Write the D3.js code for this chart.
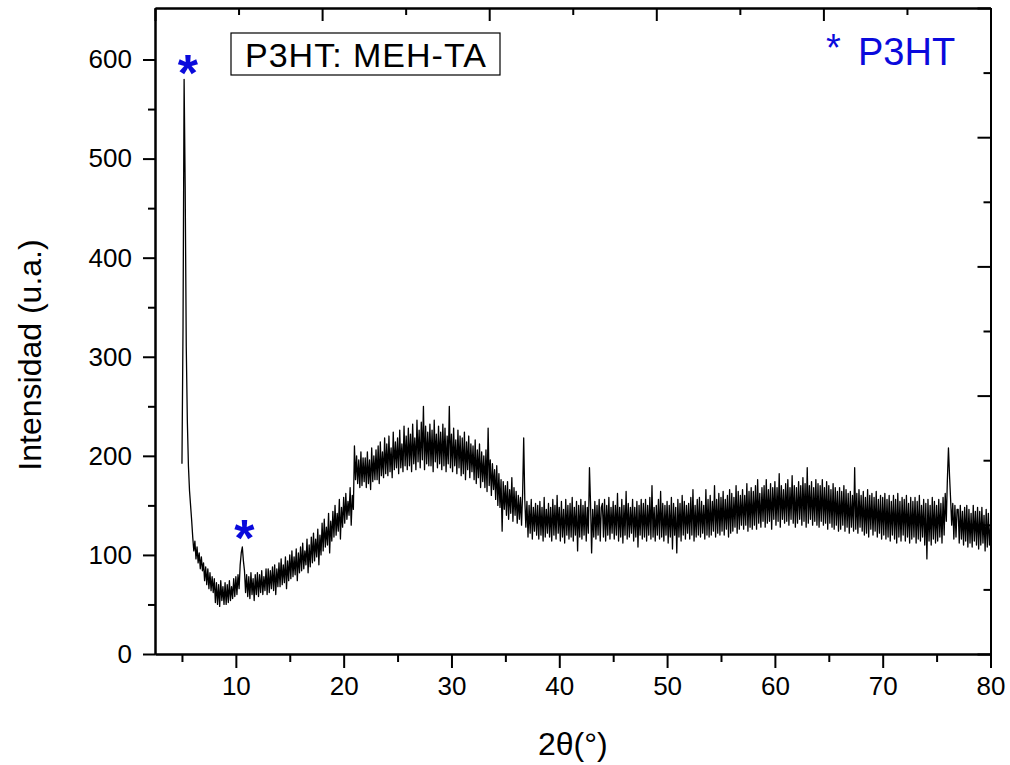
<!DOCTYPE html>
<html>
<head>
<meta charset="utf-8">
<script src="https://cdn.jsdelivr.net/npm/d3@7"></script>
<style>
  body { margin: 0; background: #fff; }
  svg { display: block; font-family: "Liberation Sans", Arial, sans-serif; }
</style>
</head>
<body>
<svg id="chart" width="1010" height="765"></svg>
<script>
// Difractograma P3HT: MEH-TA, lectura de la figura a pasos de 0.1 grados
var twoThetaStart = 5.0;
var twoThetaStep = 0.1;
var intensity = [
  192,330,580,470,310,235,190,165,150,135, // 5
  118,104,114,96,108,92,102,86,98,84,
  92,74,88,70,86,66,82,64,78,62,
  76,52,72,50,70,48,74,54,68,50,
  72,50,70,52,74,54,68,56,76,58,
  78,60,80,66,90,102,108,94,84,62, // 10
  80,58,78,56,82,60,76,54,80,60,
  82,58,80,62,84,60,78,64,86,60,
  86,62,84,66,88,64,90,60,86,68,
  92,68,96,70,90,72,98,66,94,74,
  100,76,104,78,98,80,106,74,102,82, // 15
  108,84,112,86,104,90,116,82,110,88,
  118,92,122,94,116,98,126,90,120,100,
  132,104,136,108,128,110,142,102,134,114,
  144,118,150,120,142,124,156,116,148,128,
  158,132,162,136,154,140,168,130,160,146, // 20
  210,176,200,172,196,168,204,170,198,174,
  198,168,204,172,196,166,208,174,200,176,
  206,176,210,172,214,180,204,178,218,182,
  212,180,220,184,208,178,224,186,214,188,
  218,182,226,188,212,184,230,190,220,186, // 25
  228,190,222,184,232,192,218,186,236,194,
  226,188,234,196,250,186,230,192,224,190,
  232,190,226,184,236,194,222,188,230,192,
  224,186,232,190,228,184,220,192,250,188,
  222,184,228,190,216,182,226,188,220,180, // 30
  218,182,224,176,214,186,220,178,212,184,
  210,176,216,172,206,178,212,168,204,174,
  200,168,206,164,228,170,196,160,192,166,
  186,156,190,150,182,148,176,124,174,146,
  170,140,174,136,166,142,178,134,168,140, // 35
  164,132,160,136,158,130,162,218,156,128,
  154,118,150,122,156,116,148,124,152,120,
  150,116,154,120,148,114,158,118,146,122,
  152,118,148,114,156,120,150,116,160,122,
  148,114,154,118,146,112,156,120,150,116, // 40
  152,118,158,114,148,120,154,104,150,118,
  156,116,150,120,154,114,148,122,188,152,
  102,146,118,154,116,150,120,156,114,148,
  152,118,156,114,150,120,158,116,148,122,
  154,116,150,120,162,114,148,118,156,112, // 45
  150,120,164,116,152,118,148,122,156,114,
  148,118,154,108,150,120,156,116,152,118,
  156,114,150,120,158,116,170,118,148,114,
  150,120,156,116,164,118,152,114,150,120,
  154,112,150,118,158,106,152,120,148,102, // 50
  156,118,152,114,160,120,154,116,150,122,
  152,116,158,120,166,114,150,118,156,120,
  158,118,154,122,150,116,166,120,156,118,
  160,120,154,124,170,118,156,122,162,120,
  158,124,164,120,156,126,160,118,166,122, // 55
  162,124,158,128,170,122,164,126,160,130,
  166,126,160,130,172,124,164,128,168,126,
  164,130,170,126,176,132,162,128,168,134,
  170,128,176,132,166,134,172,126,168,136,
  174,130,168,134,182,128,170,136,166,132, // 60
  172,134,176,130,168,136,180,132,170,128,
  168,132,174,136,170,130,178,134,172,128,
  188,132,170,136,174,130,168,134,176,130,
  172,128,170,134,176,130,168,132,174,126,
  170,132,166,128,172,126,168,130,164,124, // 65
  168,126,164,130,170,124,166,128,162,122,
  164,128,160,124,188,126,162,122,166,128,
  160,124,164,120,158,122,166,118,160,126,
  162,120,158,124,164,118,156,122,160,116,
  158,120,162,116,156,118,160,114,154,120, // 70
  160,116,156,112,162,118,154,114,158,120,
  156,114,160,118,152,112,158,116,154,118,
  158,112,154,116,160,114,150,118,156,110,
  152,96,156,114,150,110,158,116,154,112,
  150,114,156,118,152,112,158,120,162,134, // 75
  176,208,180,156,130,152,116,150,118,146,
  146,112,150,116,144,110,148,114,150,108,
  146,112,142,108,150,114,144,110,148,106,
  144,110,148,112,140,104,146,108,142,110,
  130 // 80
];

// ejes
var xMajor = [10, 20, 30, 40, 50, 60, 70, 80];
var xMinor = [5, 15, 25, 35, 45, 55, 65, 75];
var yMajor = [0, 100, 200, 300, 400, 500, 600];
var yMinor = [50, 150, 250, 350, 450, 550];
var mirrorMajor = [0, 1, 2, 3, 4, 5];
var mirrorMinor = [0.5, 1.5, 2.5, 3.5, 4.5];

// marcas de los picos del P3HT (centro del asterisco)
var peakMarks = [
  { x: 5.55, y: 597 },
  { x: 10.8, y: 128 }
];

var blue = "#0a0adc";

(function() {
  var data = intensity.map(function(v, i) {
    return { t: twoThetaStart + i * twoThetaStep, v: v };
  });

  var svg = d3.select("#chart");
  var pLeft = 155, pRight = 990.5, pTop = 8, pBottom = 654;

  var x = d3.scaleLinear().domain([2.5, 80]).range([pLeft, pRight]);
  var y = d3.scaleLinear().domain([0, 652]).range([pBottom, pTop]);
  var xm = d3.scaleLinear().domain([0, 5]).range([pLeft, pRight]);
  var ym = d3.scaleLinear().domain([0, 5]).range([pBottom, pTop]);

  // curva
  svg.append("path")
    .datum(data)
    .attr("fill", "none")
    .attr("stroke", "#000")
    .attr("stroke-width", 1.3)
    .attr("stroke-linejoin", "round")
    .attr("d", d3.line()
      .x(function(d) { return x(d.t); })
      .y(function(d) { return y(d.v); }));

  function styleAxis(g) {
    g.attr("font-size", null).attr("font-family", null);
    g.selectAll(".domain").attr("stroke-width", 2);
    g.selectAll(".tick line").attr("stroke-width", 2);
    g.selectAll("text").attr("font-size", 26).attr("fill", "#000");
  }

  // eje inferior
  svg.append("g")
    .attr("transform", "translate(0," + pBottom + ")")
    .call(d3.axisBottom(x).tickValues(xMinor).tickSize(8).tickFormat("").tickSizeOuter(0))
    .call(styleAxis);
  svg.append("g")
    .attr("transform", "translate(0," + pBottom + ")")
    .call(d3.axisBottom(x).tickValues(xMajor).tickSize(14).tickPadding(9).tickSizeOuter(0))
    .call(styleAxis);

  // eje izquierdo
  svg.append("g")
    .attr("transform", "translate(" + pLeft + ",0)")
    .call(d3.axisLeft(y).tickValues(yMinor).tickSize(7).tickFormat("").tickSizeOuter(0))
    .call(styleAxis);
  svg.append("g")
    .attr("transform", "translate(" + pLeft + ",0)")
    .call(d3.axisLeft(y).tickValues(yMajor).tickSize(12).tickPadding(11).tickSizeOuter(0))
    .call(styleAxis);

  // ejes espejo (marcas hacia dentro)
  svg.append("g")
    .attr("transform", "translate(0," + pTop + ")")
    .call(d3.axisTop(xm).tickValues(mirrorMinor).tickSize(-7).tickFormat("").tickSizeOuter(0))
    .call(styleAxis);
  svg.append("g")
    .attr("transform", "translate(0," + pTop + ")")
    .call(d3.axisTop(xm).tickValues(mirrorMajor).tickSize(-13).tickFormat("").tickSizeOuter(0))
    .call(styleAxis);
  svg.append("g")
    .attr("transform", "translate(" + pRight + ",0)")
    .call(d3.axisRight(ym).tickValues(mirrorMinor).tickSize(-7).tickFormat("").tickSizeOuter(0))
    .call(styleAxis);
  svg.append("g")
    .attr("transform", "translate(" + pRight + ",0)")
    .call(d3.axisRight(ym).tickValues(mirrorMajor).tickSize(-13).tickFormat("").tickSizeOuter(0))
    .call(styleAxis);

  // titulos
  svg.append("text")
    .attr("transform", "translate(41,355) rotate(-90)")
    .attr("text-anchor", "middle")
    .attr("font-size", 32)
    .text("Intensidad (u.a.)");

  svg.append("text")
    .attr("x", (pLeft + pRight) / 2)
    .attr("y", 755)
    .attr("text-anchor", "middle")
    .attr("font-size", 32)
    .text("2θ(°)");

  // recuadro con la muestra
  svg.append("rect")
    .attr("x", 231).attr("y", 33).attr("width", 269).attr("height", 42)
    .attr("fill", "#fff").attr("stroke", "#000").attr("stroke-width", 1.2);
  svg.append("text")
    .attr("x", 245).attr("y", 67)
    .attr("font-size", 34)
    .attr("letter-spacing", 1)
    .text("P3HT: MEH-TA");

  // leyenda
  var leg = svg.append("text")
    .attr("x", 826).attr("y", 65)
    .attr("font-size", 38)
    .attr("fill", blue);
  leg.append("tspan").attr("dy", -4).text("*");
  leg.append("tspan").attr("x", 858).attr("dy", 4).text("P3HT");

  // asteriscos sobre los picos
  svg.selectAll(".mark")
    .data(peakMarks)
    .enter().append("text")
    .attr("class", "mark")
    .attr("x", function(d) { return x(d.x); })
    .attr("y", function(d) { return y(d.y) + 29; })
    .attr("text-anchor", "middle")
    .attr("font-size", 52)
    .attr("font-weight", "bold")
    .attr("fill", blue)
    .text("*");
})();
</script>
</body>
</html>
